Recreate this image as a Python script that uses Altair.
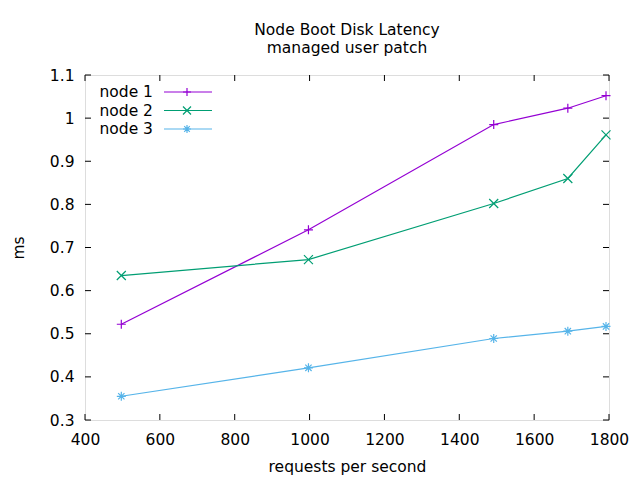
import altair as alt
import pandas as pd

series = ["node 1", "node 2", "node 3"]
rps = [497, 997, 1492, 1690, 1792]
node1 = [0.522, 0.741, 0.985, 1.023, 1.052]
node2 = [0.635, 0.672, 0.802, 0.860, 0.961]
node3 = [0.355, 0.421, 0.489, 0.506, 0.517]
colors = ["#9400d3", "#009e73", "#56b4e9"]
shapes = [
    "M-1,0L1,0M0,-1L0,1",
    "M-1,-1L1,1M-1,1L1,-1",
    "M-1,0L1,0M0,-1L0,1M-0.7,-0.7L0.7,0.7M-0.7,0.7L0.7,-0.7",
]
x_ticks = [400, 600, 800, 1000, 1200, 1400, 1600, 1800]
y_ticks = [0.3, 0.4, 0.5, 0.6, 0.7, 0.8, 0.9, 1.0, 1.1]
title_lines = ["Node Boot Disk Latency", "managed user patch"]
x_title = "requests per second"
y_title = "ms"

W, H = 524, 345
FONT = "DejaVu Sans"
FS = 15.5

rows = []
for name, vals in zip(series, [node1, node2, node3]):
    for xv, yv in zip(rps, vals):
        rows.append({"series": name, "rps": xv, "ms": yv})
df = pd.DataFrame(rows)

xs = alt.Scale(domain=[400, 1800], nice=False)
ys = alt.Scale(domain=[0.3, 1.1], nice=False, zero=False)
cs = alt.Scale(domain=series, range=colors)
ss = alt.Scale(domain=series, range=shapes)

base = alt.Chart(df)
lines = base.mark_line(strokeWidth=1.2).encode(
    x=alt.X("rps:Q", scale=xs,
            axis=alt.Axis(title=x_title, values=x_ticks, tickSize=0, domain=False,
                          grid=False, labelPadding=12, format="d",
                          labelFontSize=FS, titleFontSize=FS, labelFont=FONT,
                          titleFont=FONT, titleFontWeight="normal",
                          labelColor="black", titleColor="black",
                          titleY=51, titleBaseline="alphabetic",
                          labelFlush=False)),
    y=alt.Y("ms:Q", scale=ys,
            axis=alt.Axis(title=y_title, values=y_ticks, tickSize=0, domain=False,
                          grid=False, labelPadding=11,
                          labelFontSize=FS, titleFontSize=FS, labelFont=FONT,
                          titleFont=FONT, titleFontWeight="normal",
                          labelColor="black", titleColor="black",
                          titleX=-67, titleY=H / 2, titleAngle=-90,
                          titleBaseline="middle", titleAlign="center",
                          labelExpr="format(datum.value, '.1~f')")),
    color=alt.Color("series:N", scale=cs, legend=None),
    detail="series:N",
)
points = base.mark_point(filled=False, strokeWidth=1.2, size=81, opacity=1).encode(
    x=alt.X("rps:Q", scale=xs),
    y=alt.Y("ms:Q", scale=ys),
    color=alt.Color("series:N", scale=cs, legend=None),
    shape=alt.Shape("series:N", scale=ss, legend=None),
)

xt = alt.Chart(pd.DataFrame({"t": x_ticks}))
yt = alt.Chart(pd.DataFrame({"t": y_ticks}))
tick_style = dict(color="black", strokeWidth=1)
xb = xt.mark_rule(**tick_style).encode(x=alt.X("t:Q", scale=xs), y=alt.value(H), y2=alt.value(H - 6))
xtop = xt.mark_rule(**tick_style).encode(x=alt.X("t:Q", scale=xs), y=alt.value(0), y2=alt.value(6))
yl = yt.mark_rule(**tick_style).encode(y=alt.Y("t:Q", scale=ys), x=alt.value(0), x2=alt.value(6))
yr = yt.mark_rule(**tick_style).encode(y=alt.Y("t:Q", scale=ys), x=alt.value(W - 6), x2=alt.value(W))

leg_df = pd.DataFrame({"series": series, "idx": list(range(len(series)))})
leg_y = alt.Y("idx:Q", scale=alt.Scale(domain=[0, 2], range=[17, 54], nice=False, zero=False), axis=None)
leg = alt.Chart(leg_df)
leg_text = leg.mark_text(align="right", baseline="middle", font=FONT, fontSize=FS, color="black").encode(
    x=alt.value(68), y=leg_y, text="series:N")
leg_line = leg.mark_rule(strokeWidth=1.2).encode(
    x=alt.value(79), x2=alt.value(127), y=leg_y,
    color=alt.Color("series:N", scale=cs, legend=None))
leg_pt = leg.mark_point(filled=False, strokeWidth=1.2, size=64, opacity=1).encode(
    x=alt.value(102), y=leg_y,
    color=alt.Color("series:N", scale=cs, legend=None),
    shape=alt.Shape("series:N", scale=ss, legend=None))

legend_layer = alt.layer(leg_line, leg_pt, leg_text)

chart = alt.layer(
    alt.layer(lines, points, xb, xtop, yl, yr),
    legend_layer,
).resolve_scale(y="independent").properties(
    width=W, height=H,
    title=alt.TitleParams(text=title_lines, anchor="middle", font=FONT, fontSize=FS,
                          fontWeight="normal", color="black", offset=12, lineHeight=18),
    autosize=alt.AutoSizeParams(type="none"),
    padding={"left": 77, "top": 67, "right": 23, "bottom": 58},
).configure_view(stroke="black", strokeWidth=1).configure(background="white")

chart.save("out.html", embed_options={"renderer": "svg", "actions": False})
